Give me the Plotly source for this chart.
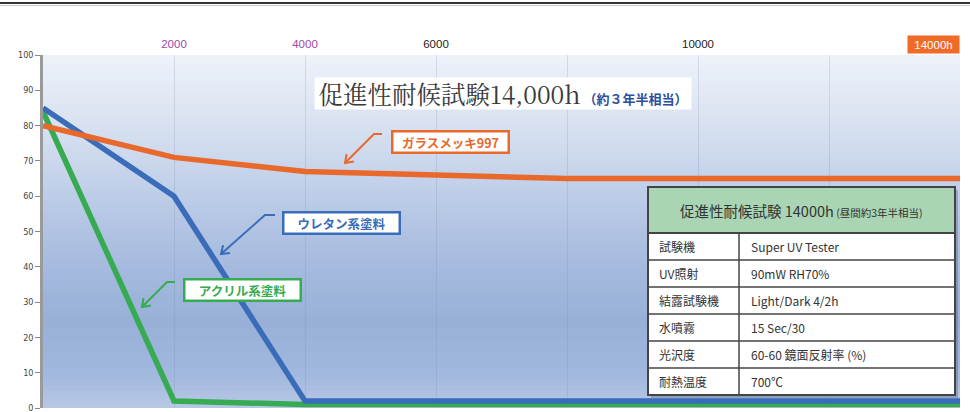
import math
import plotly.graph_objects as go

# ---- data ----
hours = [0, 2000, 4000, 6000, 8000, 10000, 12000, 14000]
glass_997 = [80, 71, 67, 66, 65, 65, 65, 65]
urethane = [85, 60, 2, 2, 2, 2, 2, 2]
acrylic = [84, 2, 1, 1, 1, 1, 1, 1]
series_names = ["ガラスメッキ997", "ウレタン系塗料", "アクリル系塗料"]

grid_hours = [2000, 4000, 6000, 8000, 10000, 12000]
top_tick_text = ["2000", "4000", "6000", "", "10000", ""]
top_tick_colors = ["#a04aa8", "#a04aa8", "#222222", "#222222", "#222222", "#222222"]
end_label = "14000h"

y_ticks = [0, 10, 20, 30, 40, 50, 60, 70, 80, 90, 100]

title_main = "促進性耐候試験14,000h"
title_sub = "（約３年半相当）"

table_header_main = "促進性耐候試験 14000h"
table_header_sub = "(昼間約3年半相当)"
table_labels = ["試験機", "UV照射", "結露試験機", "水噴霧", "光沢度", "耐熱温度"]
table_values = ["Super UV Tester", "90mW RH70%", "Light/Dark 4/2h", "15 Sec/30",
                "60-60 鏡面反射率 (%)", "700℃"]

# ---- layout geometry (pixels) ----
W, H = 970, 412
L, R, T, B = 43, 960, 55, 408
PW, PH = R - L, B - T

def xp(px):
    return (px - L) / PW

def yp(py):
    return (B - py) / PH

ORANGE = "#e8692b"
BLUE = "#3a6cb9"
GREEN = "#36ab52"
FONT = "Noto Sans CJK JP"

fig = go.Figure()
fig.add_trace(go.Scatter(x=hours, y=acrylic, mode="lines", name=series_names[2],
                         line=dict(color=GREEN, width=5.5)))
fig.add_trace(go.Scatter(x=hours, y=urethane, mode="lines", name=series_names[1],
                         line=dict(color=BLUE, width=5.5)))
fig.add_trace(go.Scatter(x=hours, y=glass_997, mode="lines", name=series_names[0],
                         line=dict(color=ORANGE, width=5.5)))

shapes = []
# background gradient bands
stops = [(0.0, (184, 200, 229)), (0.1, (160, 183, 222)), (0.25, (152, 176, 216)),
         (0.45, (170, 190, 224)), (0.65, (196, 210, 234)), (0.85, (222, 230, 243)),
         (1.0, (238, 242, 249))]

def col_at(f):
    for (f0, c0), (f1, c1) in zip(stops[:-1], stops[1:]):
        if f0 <= f <= f1:
            t = (f - f0) / (f1 - f0) if f1 > f0 else 0
            return "rgb(%d,%d,%d)" % tuple(round(a + (b - a) * t) for a, b in zip(c0, c1))
    return "rgb(%d,%d,%d)" % stops[-1][1]

N = 80
for i in range(N):
    f0, f1 = i / N, (i + 1) / N
    shapes.append(dict(type="rect", xref="paper", yref="paper", x0=0, x1=1, y0=f0, y1=min(1, f1 + 0.002),
                       fillcolor=col_at((f0 + f1) / 2), line=dict(width=0), layer="below"))

# top frame line
shapes.append(dict(type="rect", xref="paper", yref="paper", x0=xp(0), x1=xp(W), y0=yp(4), y1=yp(2),
                   fillcolor="#333333", line=dict(width=0)))
shapes.append(dict(type="line", xref="paper", yref="paper", x0=xp(0), x1=xp(W), y0=yp(5.5), y1=yp(5.5),
                   line=dict(color="#c8c8c8", width=1)))

annotations = []

# end label box
annotations.append(dict(xref="x", yref="paper", x=hours[-1], y=yp(44.5), xanchor="right", yanchor="middle",
                        text=end_label, showarrow=False, bgcolor="#f06a28",
                        font=dict(family="Liberation Sans", size=11.5, color="white"),
                        borderpad=2, width=47, height=13))

# title box
annotations.append(dict(xref="paper", yref="paper", x=xp(503), y=yp(93.5), xanchor="center", yanchor="middle",
                        text=(f"<span style='font-size:24.5px;color:#3a3a3a'>{title_main}</span>"
                              f"<span style='font-size:13px;color:#2b4ea0;font-family:{FONT}'><b> {title_sub}</b></span>"),
                        showarrow=False, bgcolor="white", width=374, height=29,
                        font=dict(family="Noto Serif CJK JP, " + FONT)))

# series label boxes and arrows (bent line with open arrowhead)
labels = [
    (series_names[0], ORANGE, 450, 141.5, 112, (382, 374, 134), (345, 163)),
    (series_names[1], BLUE, 341, 222.5, 112, (275, 265, 215), (221, 254)),
    (series_names[2], GREEN, 242.5, 290, 112, (175, 167, 282), (142, 307)),
]

def ppt(px, py):
    return f"{xp(px):.5f},{yp(py):.5f}"

for text, c, cx, cy, w, (hx0, hx1, hy), (tx, ty) in labels:
    annotations.append(dict(xref="paper", yref="paper", x=xp(cx), y=yp(cy), xanchor="center", yanchor="middle",
                            text=f"<b>{text}</b>", showarrow=False, bgcolor="white", bordercolor=c,
                            borderwidth=2.5, borderpad=1, width=w, height=17,
                            font=dict(family=FONT, size=12.5, color=c)))
    shapes.append(dict(type="path", xref="paper", yref="paper",
                       path=f"M{ppt(hx0, hy)} L{ppt(hx1, hy)} L{ppt(tx, ty)}",
                       line=dict(color=c, width=2)))
    dx, dy = hx1 - tx, hy - ty
    d = math.hypot(dx, dy)
    ux, uy = dx / d, dy / d
    hl, ang = 9, math.radians(35)
    p1 = (tx + hl * (ux * math.cos(ang) - uy * math.sin(ang)), ty + hl * (ux * math.sin(ang) + uy * math.cos(ang)))
    p2 = (tx + hl * (ux * math.cos(-ang) - uy * math.sin(-ang)), ty + hl * (ux * math.sin(-ang) + uy * math.cos(-ang)))
    shapes.append(dict(type="path", xref="paper", yref="paper",
                       path=f"M{ppt(*p1)} L{ppt(tx, ty)} L{ppt(*p2)}",
                       line=dict(color=c, width=2)))

# table
tx0, tx1, tcol = 648, 955, 739
ty0, thead = 187, 233
row_edges = [233, 260, 287, 314, 341, 368, 395]
shapes.append(dict(type="rect", xref="paper", yref="paper", x0=xp(tx0 + 3), x1=xp(tx1 + 3),
                   y0=yp(row_edges[-1] + 3), y1=yp(ty0 + 3), fillcolor="rgba(0,0,0,0.18)",
                   line=dict(width=0)))
shapes.append(dict(type="rect", xref="paper", yref="paper", x0=xp(tx0), x1=xp(tx1), y0=yp(thead), y1=yp(ty0),
                   fillcolor="#a9d5b4", line=dict(color="#444444", width=2)))
shapes.append(dict(type="rect", xref="paper", yref="paper", x0=xp(tx0), x1=xp(tx1), y0=yp(row_edges[-1]),
                   y1=yp(thead), fillcolor="white", line=dict(color="#444444", width=2)))
for e in row_edges[1:-1]:
    shapes.append(dict(type="line", xref="paper", yref="paper", x0=xp(tx0), x1=xp(tx1), y0=yp(e), y1=yp(e),
                       line=dict(color="#444444", width=1.5)))
shapes.append(dict(type="line", xref="paper", yref="paper", x0=xp(tcol), x1=xp(tcol), y0=yp(row_edges[-1]),
                   y1=yp(thead), line=dict(color="#444444", width=1.5)))
annotations.append(dict(xref="paper", yref="paper", x=xp((tx0 + tx1) / 2), y=yp(210), xanchor="center",
                        yanchor="middle", showarrow=False,
                        text=(f"<span style='font-size:14.5px'>{table_header_main}</span>"
                              f"<span style='font-size:10.5px'> {table_header_sub}</span>"),
                        font=dict(family=FONT, color="#333333")))
for i, (lab, val) in enumerate(zip(table_labels, table_values)):
    cy = (row_edges[i] + row_edges[i + 1]) / 2
    annotations.append(dict(xref="paper", yref="paper", x=xp(657), y=yp(cy), xanchor="left", yanchor="middle",
                            text=lab, showarrow=False, font=dict(family=FONT, size=12, color="#333333")))
    annotations.append(dict(xref="paper", yref="paper", x=xp(749), y=yp(cy), xanchor="left", yanchor="middle",
                            text=val, showarrow=False, font=dict(family=FONT, size=12, color="#333333")))

ticktext = [f"<span style='color:{c}'>{t}</span>" for t, c in zip(top_tick_text, top_tick_colors)]

fig.update_layout(
    width=W, height=H, autosize=False,
    margin=dict(l=L, r=W - R, t=T, b=H - B, pad=0, autoexpand=False),
    paper_bgcolor="white", plot_bgcolor="#c9d5ec",
    showlegend=False,
    shapes=shapes, annotations=annotations,
    xaxis=dict(range=[hours[0], hours[-1]], side="top", tickvals=grid_hours, ticktext=ticktext,
               ticks="", showgrid=True, gridcolor="rgba(120,135,165,0.22)", gridwidth=1,
               zeroline=False, showline=False, ticklabelstandoff=4, automargin=False,
               tickfont=dict(family="Liberation Sans", size=11.5)),
    yaxis=dict(range=[0, 100], tickvals=y_ticks, ticks="outside", ticklen=5, tickwidth=1,
               tickcolor="#888888", showgrid=False, zeroline=False, showline=True,
               linecolor="#9a9a9a", linewidth=2.5, automargin=False, ticklabeloverflow="allow",
               tickfont=dict(family="DejaVu Sans Condensed, Liberation Sans Narrow", size=9, color="#444444")),
)

fig.write_html("out.html", config={"displayModeBar": False},
               post_script="document.body.style.margin='0';")
